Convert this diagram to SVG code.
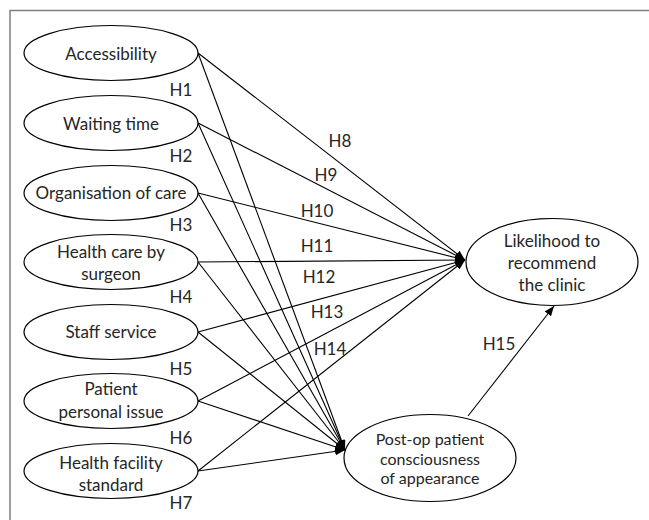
<svg xmlns="http://www.w3.org/2000/svg" width="649" height="520" viewBox="0 0 649 520">
<style>
.frame{stroke:#7f7f7f;stroke-width:1.5;fill:none}
.node ellipse{fill:#fff;stroke:#000;stroke-width:1.2}
text{font-family:Lato,"Open Sans",sans-serif;font-size:17px;fill:#262626;text-anchor:middle;dominant-baseline:central}
.tight{font-size:16px}
.edge{stroke:#000;stroke-width:1.1;fill:none;marker-end:url(#arr)}
</style>
<defs>
<marker id="arr" markerUnits="userSpaceOnUse" markerWidth="11" markerHeight="8" refX="10" refY="4" orient="auto">
<path d="M0,0 L10,4 L0,8 z" fill="#000"/>
</marker>
</defs>
<rect width="649" height="520" fill="#fff"/>
<path class="frame" d="M10,520 V10.5 H649"/>
<g id="connectors">
<line class="edge" x1="198" y1="53" x2="465" y2="260"/>
<line class="edge" x1="198" y1="53" x2="345" y2="450"/>
<line class="edge" x1="198" y1="123" x2="465" y2="260"/>
<line class="edge" x1="198" y1="123" x2="345" y2="450"/>
<line class="edge" x1="198" y1="193" x2="465" y2="260"/>
<line class="edge" x1="198" y1="193" x2="345" y2="450"/>
<line class="edge" x1="198" y1="262" x2="465" y2="260"/>
<line class="edge" x1="198" y1="262" x2="345" y2="450"/>
<line class="edge" x1="198" y1="332" x2="465" y2="260"/>
<line class="edge" x1="198" y1="332" x2="345" y2="450"/>
<line class="edge" x1="198" y1="401" x2="465" y2="260"/>
<line class="edge" x1="198" y1="401" x2="345" y2="450"/>
<line class="edge" x1="198" y1="471" x2="465" y2="260"/>
<line class="edge" x1="198" y1="471" x2="345" y2="450"/>
<line class="edge" x1="468" y1="416" x2="554" y2="306"/>
</g>
<g id="labels">
<text x="181" y="89">H1</text>
<text x="181" y="155">H2</text>
<text x="181" y="224">H3</text>
<text x="181" y="296">H4</text>
<text x="181" y="368">H5</text>
<text x="181" y="437">H6</text>
<text x="181" y="502">H7</text>
<text x="340" y="140">H8</text>
<text x="326" y="174">H9</text>
<text x="317" y="210">H10</text>
<text x="317" y="245">H11</text>
<text x="319" y="276">H12</text>
<text x="327" y="311">H13</text>
<text x="330" y="348">H14</text>
<text x="499" y="343">H15</text>
</g>
<g id="n1" class="node"><ellipse cx="111" cy="53" rx="87" ry="27.5"/><text x="111" y="53">Accessibility</text></g>
<g id="n2" class="node"><ellipse cx="111" cy="123" rx="87" ry="27.5"/><text x="111" y="123">Waiting time</text></g>
<g id="n3" class="node"><ellipse cx="111" cy="193" rx="87" ry="27.5"/><text x="111" y="192">Organisation of care</text></g>
<g id="n4" class="node"><ellipse cx="111" cy="262" rx="87" ry="27.5"/><text x="111" y="251">Health care by</text><text x="111" y="273">surgeon</text></g>
<g id="n5" class="node"><ellipse cx="111" cy="332" rx="87" ry="27.5"/><text x="111" y="331">Staff service</text></g>
<g id="n6" class="node"><ellipse cx="111" cy="401" rx="87" ry="27.5"/><text x="111" y="388">Patient</text><text x="111" y="411">personal issue</text></g>
<g id="n7" class="node"><ellipse cx="111" cy="471" rx="87" ry="27.5"/><text x="111" y="462">Health facility</text><text x="111" y="484">standard</text></g>
<g id="n8" class="node"><ellipse cx="552" cy="262" rx="86" ry="43.5"/><text x="552" y="240">Likelihood to</text><text x="552" y="262">recommend</text><text x="552" y="284">the clinic</text></g>
<g id="n9" class="node"><ellipse cx="430" cy="458" rx="86" ry="43.5"/><text class="tight" x="430" y="438.5">Post-op patient</text><text class="tight" x="430" y="458">consciousness</text><text class="tight" x="430" y="477.5">of appearance</text></g>
</svg>
